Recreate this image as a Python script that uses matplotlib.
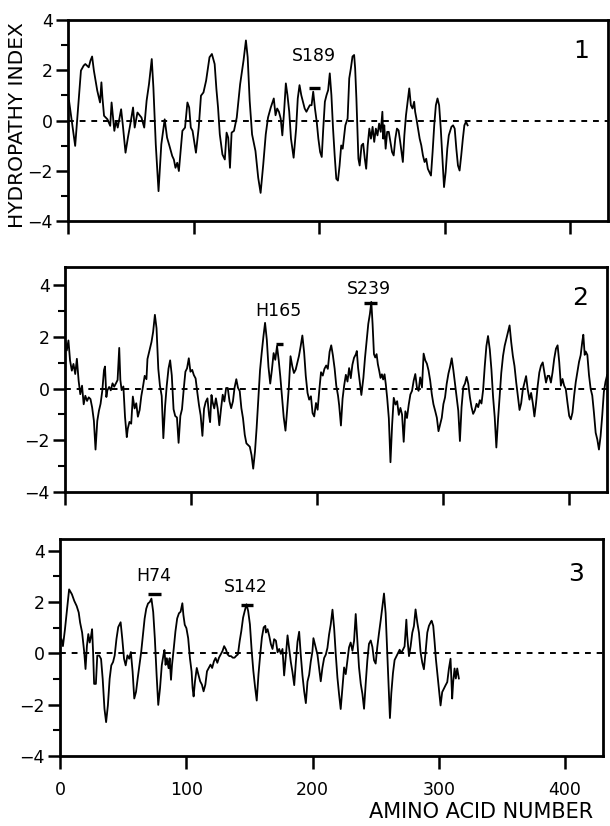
import matplotlib
matplotlib.use("Agg")
import matplotlib.pyplot as plt
from matplotlib.ticker import MultipleLocator

# hydropathy profiles: (amino acid number, index)
panel1 = [
    (0.8, 0.79), (5.7, -1.01), (10.3, 1.99), (12.5, 2.19), (13.8, 2.25), (16.5, 2.12),
    (17.9, 2.39), (19.2, 2.55), (20.6, 1.99), (23.3, 1.19), (25.5, 0.72), (26.6, 1.52),
    (27.4, 0.92), (28.7, 0.19), (31.4, 0.05), (33.6, -0.21), (34.7, 0.72), (36.9, -0.41),
    (38.2, -0.01), (39.6, -0.28), (42.3, 0.45), (43.6, -0.15), (45.8, -1.28), (47.7, -0.68),
    (49.6, -0.15), (51.8, 0.52), (53.1, -0.28), (55.3, 0.32), (58.5, 0.12), (60.7, -0.28),
    (62.6, 0.79), (64.5, 1.45), (66.7, 2.45), (68.0, 1.32), (69.9, -0.95), (72.1, -2.81),
    (74.3, -0.95), (77.0, 0.05), (78.9, -0.68), (80.8, -1.01), (83.0, -1.41), (84.3, -1.55),
    (85.6, -1.88), (87.0, -1.68), (88.3, -2.01), (89.7, -1.21), (91.1, -0.41), (93.2, -0.28),
    (95.1, 0.72), (96.5, 0.52), (97.8, -0.28), (99.2, -0.41), (101.1, -1.01), (101.9, -1.28),
    (104.1, -0.28), (105.9, 0.99), (107.9, 1.12), (110.0, 1.59), (112.7, 2.52), (114.6, 2.65),
    (116.8, 2.25), (118.2, 1.25), (119.5, 0.52), (120.9, -0.55), (123.0, -1.35), (124.9, -1.55),
    (126.3, -0.48), (127.6, -0.68), (129.0, -1.88), (130.3, -0.48), (132.2, -0.41), (134.4, 0.12),
    (137.1, 1.45), (139.8, 2.39), (141.7, 3.19), (143.1, 2.52), (144.7, 0.79), (146.6, -0.55),
    (149.3, -1.21), (151.5, -2.28), (153.4, -2.88), (155.5, -1.75), (157.5, -0.55), (159.3, 0.12),
    (161.5, 0.52), (163.9, 0.88), (165.3, 0.21), (166.6, 0.48), (168.0, 0.35), (169.4, 0.08),
    (170.7, -0.59), (172.1, 0.35), (173.5, 1.48), (174.8, 1.01), (176.2, 0.35), (177.6, -0.72),
    (179.7, -1.48), (181.7, -0.32), (183.0, 0.88), (184.4, 1.41), (185.8, 1.01), (187.1, 0.75),
    (188.5, 0.48), (189.9, 0.35), (191.2, 0.48), (192.6, 0.61), (194.0, 0.61), (195.3, 1.15),
    (196.7, 0.48), (198.1, -0.05), (199.4, -0.72), (200.8, -1.25), (202.1, -1.45), (203.3, -0.32),
    (204.6, 0.75), (205.9, 1.01), (207.2, 1.21), (208.5, 1.88), (209.8, 1.01), (211.1, -0.32),
    (212.4, -1.39), (213.7, -2.32), (215.0, -2.39), (216.3, -1.79), (217.6, -0.99), (218.8, -1.12),
    (220.9, -0.19), (222.7, 0.08), (224.0, 1.68), (225.3, 2.08), (226.6, 2.55), (227.9, 2.61),
    (228.7, 2.08), (229.7, 0.88), (230.5, -0.32), (231.3, -1.52), (232.3, -1.79), (233.8, -0.99),
    (235.1, -0.92), (236.4, -1.52), (237.5, -1.92), (238.7, -0.99), (240.0, -0.32), (241.3, -0.72),
    (242.6, -0.25), (243.9, -0.85), (245.2, -0.32), (246.5, -0.59), (247.8, -0.12), (249.1, -0.45),
    (250.4, 0.35), (251.1, -0.72), (251.9, -0.19), (253.0, -1.12), (254.2, -0.45), (255.5, -0.45),
    (256.8, -0.85), (258.1, -1.25), (259.4, -1.39), (260.7, -0.72), (262.0, -0.32), (263.3, -0.39),
    (264.6, -0.85), (266.7, -1.65), (267.9, -0.59), (269.2, 0.21), (270.5, 0.75), (271.8, 1.28),
    (273.1, 0.61), (274.4, 0.48), (275.7, 0.75), (276.5, 0.35), (277.5, 0.08), (278.8, -0.32),
    (280.1, -0.72), (281.4, -0.99), (282.7, -1.39), (284.0, -1.65), (285.3, -1.52), (286.6, -1.92),
    (287.8, -2.05), (289.1, -2.19), (290.4, -1.25), (291.7, -0.19), (293.0, 0.61), (294.3, 0.88),
    (295.6, 0.61), (296.9, -0.32), (298.2, -1.52), (299.5, -2.65), (300.8, -2.05), (302.1, -1.12),
    (303.3, -0.59), (305.4, -0.25), (306.7, -0.19), (308.0, -0.32), (309.3, -1.12), (310.6, -1.79),
    (311.9, -1.99), (313.2, -1.39), (314.5, -0.72), (315.7, -0.19), (317.0, -0.05), (318.3, -0.19),
]

panel2 = [
    (0.0, 1.93), (1.4, 1.47), (2.7, 1.86), (4.0, 1.08), (5.4, 0.69), (6.7, 0.95), (8.1, 0.56),
    (9.4, 1.15), (10.8, 0.30), (12.1, -0.22), (13.5, 0.11), (14.8, -0.61), (16.1, -0.28),
    (17.5, -0.48), (18.8, -0.34), (20.2, -0.41), (21.5, -0.73), (22.9, -1.25), (24.2, -2.36),
    (25.6, -1.25), (26.9, -0.86), (28.2, -0.59), (29.6, -0.07), (30.9, 0.71), (31.7, 0.85),
    (32.8, -0.33), (33.6, -0.07), (35.0, 0.06), (36.3, -0.07), (37.7, 0.20), (39.0, 0.07),
    (40.4, 0.20), (41.7, 0.33), (43.0, 1.57), (43.9, 0.33), (44.9, -0.06), (46.3, 0.08),
    (47.6, -1.10), (49.0, -1.88), (49.8, -1.55), (51.1, -1.29), (52.5, -1.36), (53.8, -0.31),
    (55.2, -0.77), (56.5, -0.57), (57.8, -1.09), (59.2, -0.83), (60.5, -0.30), (61.9, 0.09),
    (63.2, 0.49), (64.6, 0.36), (65.4, 1.14), (67.3, 1.54), (68.6, 1.80), (69.9, 2.19),
    (71.3, 2.85), (72.6, 2.33), (74.0, 0.76), (75.3, 0.11), (76.7, -0.29), (78.0, -1.92),
    (79.4, -0.68), (80.7, 0.11), (82.1, 0.77), (83.4, 1.09), (84.7, 0.51), (86.1, -0.80),
    (87.4, -1.06), (88.8, -1.12), (90.1, -2.10), (91.5, -1.06), (92.8, -0.80), (94.2, -0.01),
    (95.5, 0.65), (96.8, 0.78), (98.2, 1.17), (99.5, 0.65), (100.9, 0.72), (102.2, 0.52),
    (103.6, 0.39), (104.9, -0.13), (106.3, -0.65), (107.6, -1.04), (109.0, -1.83), (110.3, -0.78),
    (111.6, -0.52), (113.0, -0.38), (114.3, -1.04), (115.1, -1.30), (116.2, -0.25), (117.0, -0.51),
    (118.4, -0.77), (119.7, -0.38), (121.1, -0.77), (122.4, -1.42), (123.8, -0.77), (125.1, -0.24),
    (126.4, -0.50), (127.8, 0.02), (129.1, 0.02), (130.5, -0.50), (131.8, -0.76), (133.2, -0.50),
    (134.5, 0.03), (135.9, 0.36), (137.2, 0.03), (138.6, -0.10), (139.9, -0.76), (141.2, -1.15),
    (142.6, -1.79), (143.9, -2.12), (145.3, -2.19), (146.6, -2.25), (148.0, -2.58), (149.3, -3.10),
    (150.7, -2.44), (152.0, -1.53), (153.3, -0.48), (154.7, 0.70), (156.0, 1.36), (157.4, 2.01),
    (158.7, 2.54), (160.1, 1.88), (161.4, 0.84), (162.8, 0.19), (164.1, 0.71), (165.5, 1.37),
    (166.8, 1.11), (168.2, 1.64), (169.5, 1.11), (170.8, 0.46), (172.2, -0.33), (173.5, -1.11),
    (174.9, -1.63), (176.2, -0.84), (177.6, 0.07), (178.9, 1.25), (180.3, 0.86), (181.6, 0.60),
    (183.0, 0.73), (184.3, 0.99), (185.6, 1.26), (187.0, 1.65), (188.3, 2.05), (189.7, 1.40),
    (191.0, 0.49), (192.4, -0.17), (193.7, -0.43), (195.1, -0.30), (196.4, -0.95), (197.7, -1.08),
    (199.1, -0.56), (200.4, -0.82), (201.8, -0.03), (203.1, 0.63), (204.5, 0.50), (205.8, 0.76),
    (207.2, 0.89), (208.5, 0.76), (209.9, 1.42), (211.2, 1.67), (212.5, 1.29), (213.9, 0.77),
    (215.2, 0.11), (216.6, -0.28), (217.5, -0.65), (218.9, -1.43), (220.2, -0.39), (221.5, 0.13),
    (222.8, 0.53), (224.1, 0.27), (225.4, 0.79), (226.7, 0.40), (228.0, 0.92), (229.3, 1.19),
    (230.7, 1.32), (231.5, 1.45), (232.5, 0.80), (234.1, 0.14), (235.1, -0.25), (236.7, 0.41),
    (238.0, 1.19), (239.3, 1.85), (240.6, 2.50), (241.9, 2.89), (243.0, 3.35), (244.0, 2.50),
    (245.1, 1.33), (246.1, 1.20), (247.2, 1.33), (248.2, 0.94), (249.3, 0.68), (250.3, 0.41),
    (251.4, 0.55), (252.4, 0.35), (253.5, 0.55), (254.5, 0.16), (255.6, -0.37), (256.9, -1.15),
    (258.2, -2.85), (259.5, -1.41), (260.8, -0.36), (262.2, -0.62), (263.5, -0.49), (264.8, -1.02),
    (266.1, -0.75), (267.4, -1.01), (268.7, -2.06), (270.0, -0.88), (271.3, -1.14), (272.7, -0.62),
    (274.0, -0.23), (275.3, -0.09), (276.6, 0.30), (277.9, 0.56), (279.2, 0.04), (280.5, -0.09),
    (281.8, 0.43), (283.2, 0.04), (284.5, 1.35), (285.8, 1.09), (287.1, 0.96), (288.4, 0.70),
    (289.7, 0.31), (291.0, -0.22), (292.3, -0.61), (293.7, -0.87), (295.0, -1.13), (296.3, -1.65),
    (297.6, -1.39), (298.9, -1.13), (300.2, -0.60), (301.5, -0.34), (302.8, 0.18), (304.2, 0.58),
    (305.5, 0.84), (306.8, 1.17), (308.1, 0.71), (309.4, 0.19), (310.7, -0.33), (312.0, -0.86),
    (313.3, -2.03), (314.6, -0.72), (316.0, 0.06), (317.3, 0.19), (318.6, 0.45), (319.9, 0.19),
    (321.2, -0.33), (322.5, -0.72), (323.8, -0.98), (325.1, -0.85), (326.5, -0.59), (327.8, -0.72),
    (329.1, -0.45), (330.4, -0.58), (331.7, -0.06), (333.0, 0.86), (334.3, 1.64), (335.6, 2.03),
    (337.0, 1.51), (338.3, 0.73), (339.6, -0.32), (340.9, -1.10), (342.2, -2.28), (343.5, -1.23),
    (344.8, -0.31), (346.1, 0.60), (347.5, 1.26), (348.8, 1.65), (350.1, 1.91), (351.4, 2.17),
    (352.7, 2.44), (354.0, 1.79), (355.3, 1.26), (356.6, 0.87), (358.0, 0.22), (359.3, -0.30),
    (360.6, -0.83), (361.9, -0.57), (363.2, -0.04), (364.5, 0.22), (365.8, 0.48), (367.1, -0.04),
    (368.5, -0.43), (369.8, -0.17), (371.1, -0.56), (372.4, -1.08), (373.7, -0.56), (375.0, 0.10),
    (376.3, 0.62), (377.6, 0.88), (379.0, 1.01), (380.3, 0.62), (381.6, 0.23), (382.9, 0.49),
    (384.2, 0.49), (385.5, 0.23), (386.8, 0.63), (388.1, 1.15), (389.5, 1.54), (390.8, 1.67),
    (392.1, 1.02), (393.4, 0.11), (394.7, 0.37), (396.0, 0.11), (397.3, -0.02), (398.6, -0.54),
    (400.0, -1.06), (401.3, -1.19), (402.6, -0.93), (403.9, -0.28), (405.2, 0.25), (406.5, 0.64),
    (407.8, 1.03), (409.1, 1.29), (410.4, 1.82), (411.2, 2.08), (412.3, 1.30), (413.1, 1.43),
    (414.4, 1.30), (415.7, 0.52), (417.0, -0.01), (418.3, -0.27), (419.6, -0.92), (421.0, -1.71),
    (422.3, -1.97), (423.6, -2.36), (424.9, -1.84), (426.2, -1.05), (427.5, -0.13), (428.8, 0.26),
    (430.1, 0.52),
]

panel3 = [
    (1.2, 0.54), (2.3, 0.28), (3.9, 0.93), (5.3, 1.58), (7.2, 2.49), (9.4, 2.30), (11.3, 2.04),
    (13.2, 1.84), (14.8, 1.59), (15.9, 1.20), (17.5, 0.81), (19.2, 0.03), (20.2, -0.61),
    (21.3, 0.29), (22.4, 0.75), (23.5, 0.42), (24.6, 0.68), (25.4, 0.94), (26.2, 0.04),
    (27.0, -1.19), (28.4, -1.19), (29.5, -0.09), (31.1, -0.09), (32.5, -0.22), (33.8, -1.00),
    (35.2, -2.16), (36.5, -2.68), (37.9, -2.03), (39.3, -0.99), (40.6, -0.47), (42.0, -0.34),
    (43.3, -0.08), (44.7, 0.56), (46.1, 1.02), (48.0, 1.21), (49.3, 0.57), (50.7, -0.21),
    (52.0, -0.47), (53.4, -0.08), (54.8, -0.21), (56.1, 0.05), (57.5, -0.72), (58.8, -1.76),
    (60.2, -1.50), (61.5, -0.98), (62.9, -0.46), (64.3, 0.06), (65.6, 0.70), (67.0, 1.35),
    (68.3, 1.74), (69.7, 1.94), (71.1, 2.00), (72.4, 2.13), (73.8, 1.61), (75.1, 0.58),
    (76.5, -0.84), (77.8, -2.01), (79.2, -1.36), (80.6, -0.46), (81.9, -0.07), (82.7, 0.13),
    (83.6, -0.45), (84.6, -0.19), (86.0, -0.58), (86.8, -0.19), (87.9, -1.03), (88.7, -0.45),
    (90.1, 0.20), (91.4, 0.85), (92.8, 1.36), (94.2, 1.56), (95.5, 1.62), (96.9, 1.95),
    (97.7, 1.50), (98.8, 1.11), (100.1, 0.98), (101.5, 0.59), (102.9, -0.19), (104.2, -0.71),
    (105.0, -1.35), (105.8, -1.68), (106.9, -1.09), (108.3, -0.57), (109.6, -0.83), (111.0, -1.09),
    (112.4, -1.22), (113.7, -1.48), (115.1, -1.22), (116.4, -0.70), (117.8, -0.57), (119.2, -0.44),
    (120.5, -0.57), (121.9, -0.31), (123.2, -0.18), (124.6, -0.37), (125.9, -0.17), (127.3, -0.04),
    (128.7, 0.09), (130.0, 0.28), (131.4, 0.15), (132.7, -0.04), (134.1, -0.11), (135.5, -0.11),
    (136.8, -0.17), (138.2, -0.17), (139.5, -0.10), (140.9, -0.04), (142.3, 0.48), (143.6, 0.87),
    (145.0, 1.39), (146.3, 1.65), (147.7, 1.91), (149.0, 1.65), (150.4, 1.13), (151.8, 0.10),
    (153.1, -0.68), (154.5, -1.32), (155.8, -1.84), (157.2, -0.81), (158.6, -0.03), (159.9, 0.62),
    (161.3, 1.01), (162.6, 1.07), (163.1, 0.81), (164.4, 0.94), (165.7, 0.68), (167.0, 0.36),
    (168.3, 0.17), (169.6, 0.55), (171.0, 0.49), (172.3, 0.04), (173.6, 0.17), (174.9, -0.02),
    (176.2, 0.17), (177.5, -0.86), (178.9, -0.08), (180.2, 0.70), (181.5, 0.18), (182.8, -0.34),
    (184.1, -0.73), (185.5, -1.24), (186.8, -0.33), (188.1, 0.45), (189.4, 0.84), (190.7, -0.07),
    (192.0, -0.85), (193.4, -1.49), (194.7, -1.94), (196.0, -1.10), (197.3, -0.84), (198.6, -0.32),
    (199.9, 0.07), (200.7, 0.59), (202.6, 0.20), (203.9, -0.05), (205.2, -0.57), (206.5, -1.09),
    (207.8, -0.57), (209.2, -0.18), (210.5, -0.05), (211.8, 0.21), (213.1, 0.73), (214.4, 1.12),
    (215.8, 1.70), (217.1, 0.99), (218.4, -0.04), (219.7, -0.94), (221.0, -1.59), (222.3, -2.17),
    (223.7, -1.33), (225.0, -0.55), (226.3, -0.81), (227.6, -0.29), (228.9, 0.23), (230.2, 0.42),
    (231.6, 0.10), (232.9, 0.49), (234.2, 1.53), (235.5, 0.49), (236.8, -0.54), (238.2, -1.19),
    (239.5, -1.58), (240.8, -2.16), (242.1, -1.18), (243.4, -0.28), (244.7, 0.37), (246.1, 0.50),
    (247.4, 0.25), (248.7, -0.27), (250.0, -0.40), (251.3, 0.25), (252.6, 0.77), (254.0, 1.29),
    (255.3, 1.81), (256.6, 2.33), (257.9, 1.56), (259.2, 0.00), (260.5, -1.56), (261.3, -2.52),
    (262.4, -1.55), (263.7, -0.77), (265.0, -0.26), (266.3, -0.13), (267.7, 0.01), (269.0, 0.14),
    (270.3, 0.01), (271.6, 0.14), (272.9, 0.27), (274.3, 1.31), (275.0, 0.67), (276.4, -0.11),
    (277.7, 0.28), (279.0, 0.80), (280.3, 1.06), (281.6, 1.71), (283.0, 1.19), (284.3, 0.80),
    (285.6, 0.03), (286.9, -0.36), (288.2, -0.62), (289.5, 0.03), (290.9, 0.81), (292.2, 1.07),
    (293.5, 1.20), (294.3, 1.27), (295.6, 1.07), (296.7, 0.43), (297.7, -0.22), (298.8, -0.74),
    (300.1, -1.39), (301.4, -2.03), (302.7, -1.51), (304.0, -1.38), (305.3, -1.25), (306.7, -1.12),
    (308.0, -0.60), (309.3, -0.21), (310.6, -1.76), (311.4, -1.11), (312.5, -0.59), (313.5, -0.98),
    (314.6, -0.59), (315.9, -0.98),
]

# labelled residues: (label, first residue, last residue, bar level)
sites1 = [("S189", 192, 201, 1.28)]
sites2 = [("H165", 167, 173, 1.72), ("S239", 237.5, 247.5, 3.3)]
sites3 = [("H74", 70, 80, 2.3), ("S142", 143, 153, 1.9)]

panel_ids = ["1", "2", "3"]
x_ticks = [0, 100, 200, 300, 400]
y_ticks = [-4, -2, 0, 2, 4]

plt.rcParams['font.family'] = ['DejaVu Sans']

fig = plt.figure(figsize=(6.1, 8.26), dpi=100)
rects = [[0.1115, 0.7324, 0.885, 0.2433],
         [0.1066, 0.4044, 0.8885, 0.2724],
         [0.0984, 0.0847, 0.890, 0.2627]]
tops = [4.0, 4.7, 4.45]
id_levels = [2.75, 3.5, 3.1]
label_offsets = [1.3, 1.27, 0.7]

for i, (data, sites) in enumerate(zip([panel1, panel2, panel3], [sites1, sites2, sites3])):
    ax = fig.add_axes(rects[i])
    xs = [p[0] for p in data]
    ys = [p[1] for p in data]
    ax.plot(xs, ys, color='black', lw=1.3)
    ax.axhline(0, color='black', lw=1.4, ls=(0, (3, 3)))

    for name, a, b, lev in sites:
        ax.plot([a, b], [lev, lev], color='black', lw=2.4, solid_capstyle='butt')
        off = 0.55 if name == "S239" else label_offsets[i]
        ax.text((a + b) / 2 - 1, lev + off, name, ha='center', va='center', fontsize=12.5)

    ax.text(409, id_levels[i], panel_ids[i], ha='center', va='center', fontsize=18)

    ax.set_xlim(0, 430)
    ax.set_ylim(-4, tops[i])
    ax.set_xticks(x_ticks)
    ax.set_yticks(y_ticks)
    ax.yaxis.set_minor_locator(MultipleLocator(1))
    ax.tick_params(direction='out', length=9, width=1.8, labelsize=12.5, pad=2)
    ax.tick_params(which='minor', direction='out', length=5, width=1.5)
    for sp in ax.spines.values():
        sp.set_linewidth(2.0)
    if i < 2:
        ax.tick_params(axis='x', labelbottom=False)
    else:
        ax.tick_params(axis='x', pad=9)

fig.text(0.028, 0.849, "HYDROPATHY INDEX", rotation=90, ha='center', va='center',
         fontsize=14.5)
fig.text(0.972, 0.017, "AMINO ACID NUMBER", ha='right', va='center', fontsize=15)

fig.savefig("out.png", dpi=100)
